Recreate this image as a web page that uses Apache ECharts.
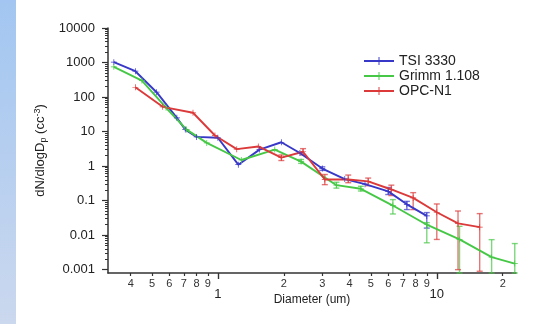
<!DOCTYPE html>
<html>
<head>
<meta charset="utf-8">
<script src="https://cdn.jsdelivr.net/npm/echarts@6/dist/echarts.min.js"></script>
<style>
  html, body { margin: 0; padding: 0; background: #fff; }
  #chart { width: 548px; height: 324px; }
</style>
</head>
<body>
<div id="chart"></div>
<script>
// [diameter um, dN/dlogDp]
const tsi = [
  [0.335, 1020], [0.42, 560], [0.525, 138], [0.65, 25], [0.71, 11.4], [0.8, 7.0],
  [1.0, 6.6], [1.24, 1.1], [1.55, 3.0], [1.95, 4.9], [2.37, 2.4], [3.0, 0.85],
  [3.8, 0.42], [4.7, 0.3], [6.0, 0.185], [7.3, 0.078], [9.0, 0.036],
]
const grimm = [
  [0.335, 750], [0.45, 300], [0.58, 49], [0.72, 11.4], [0.89, 4.7], [1.28, 1.5],
  [1.82, 3.0], [2.4, 1.35], [3.48, 0.28], [4.5, 0.22], [6.3, 0.072], [9.0, 0.02],
  [12.7, 0.0075], [17.8, 0.0023], [22.7, 0.0015],
]
const opc = [
  [0.42, 192], [0.56, 52], [0.77, 35], [0.97, 7.7], [1.22, 3.1], [1.53, 3.7],
  [1.95, 1.75], [2.45, 2.6], [3.08, 0.41], [3.94, 0.41], [4.86, 0.36], [6.2, 0.21],
  [7.8, 0.12], [10, 0.046], [12.5, 0.022], [15.7, 0.017],
]
// error bars [diameter, low, high]
const tsiErr = [[3.0, 0.75, 0.95], [6.0, 0.15, 0.24], [7.3, 0.055, 0.095], [9.0, 0.016, 0.045]]
const grimmErr = [
  [2.4, 1.2, 1.55], [3.48, 0.23, 0.34], [4.5, 0.19, 0.26], [6.3, 0.041, 0.107],
  [9.0, 0.006, 0.023], [12.7, 0.0008, 0.018], [17.8, 0.0008, 0.0074], [22.7, 0.0008, 0.0057],
]
const opcErr = [
  [1.95, 1.45, 2.1], [2.45, 2.1, 3.2], [3.08, 0.29, 0.57], [3.94, 0.33, 0.55],
  [4.86, 0.27, 0.45], [6.2, 0.14, 0.28], [7.8, 0.055, 0.17], [10, 0.0075, 0.08],
  [12.5, 0.001, 0.05], [15.7, 0.0009, 0.042],
]
const xMajor = [1, 10]
const xMinor = [0.4, 0.5, 0.6, 0.7, 0.8, 0.9, 2, 3, 4, 5, 6, 7, 8, 9, 20]
const yMajor = [0.001, 0.01, 0.1, 1, 10, 100, 1000, 10000]
const yMinor = []
yMajor.slice(0, -1).forEach(d => { for (let k = 2; k <= 9; k++) yMinor.push(+(d * k).toPrecision(2)) })

const colors = { tsi: '#3838c8', grimm: '#46c846', opc: '#dc3a3a' }
const plus = 'path://M0,4.4h10v1.2h-10z M4.4,0h1.2v10h-1.2z'
const axisColor = '#333'
const font = 'Liberation Sans, Arial, sans-serif'

const chart = echarts.init(document.getElementById('chart'))

const errSeries = (data, color) => ({
  type: 'custom',
  data,
  encode: { x: 0, y: [1, 2] },
  silent: true,
  z: 1,
  renderItem(params, api) {
    const x = api.value(0)
    const lo = api.coord([x, api.value(1)])
    const hi = api.coord([x, api.value(2)])
    const w = 3
    const style = { stroke: color, lineWidth: 1.4, opacity: 0.7 }
    return {
      type: 'group',
      children: [
        { type: 'line', shape: { x1: lo[0], y1: lo[1], x2: hi[0], y2: hi[1] }, style },
        { type: 'line', shape: { x1: hi[0] - w, y1: hi[1], x2: hi[0] + w, y2: hi[1] }, style },
        { type: 'line', shape: { x1: lo[0] - w, y1: lo[1], x2: lo[0] + w, y2: lo[1] }, style },
      ],
    }
  },
})

const lineSeries = (name, data, color) => ({
  name,
  type: 'line',
  data,
  symbol: plus,
  symbolSize: 6,
  showSymbol: true,
  color,
  lineStyle: { width: 1.9, color },
  itemStyle: { color },
  z: 3,
})

chart.setOption({
  animation: false,
  textStyle: { fontFamily: font },
  graphic: [
    {
      type: 'rect',
      shape: { x: 0, y: 0, width: 16, height: 324 },
      style: {
        fill: new echarts.graphic.LinearGradient(0, 0, 0, 1, [
          { offset: 0, color: '#a2c6f1' },
          { offset: 1, color: '#cbd8ee' },
        ]),
      },
      silent: true,
    },
  ],
  grid: { left: 108, right: 32, top: 28, bottom: 51 },
  legend: {
    data: ['TSI 3330', 'Grimm 1.108', 'OPC-N1'],
    orient: 'vertical',
    left: 358,
    top: 49,
    itemWidth: 30,
    itemHeight: 10,
    itemGap: 1,
    textStyle: { fontSize: 14, color: '#222', lineHeight: 11 },
  },
  xAxis: [
    {
      type: 'log',
      min: 0.315,
      max: 23,
      name: 'Diameter (um)',
      nameLocation: 'middle',
      nameGap: 17,
      nameTextStyle: { fontSize: 12, color: '#222' },
      axisLine: { lineStyle: { color: axisColor, width: 1.5 } },
      axisTick: { customValues: xMinor, length: 3, lineStyle: { color: axisColor, width: 1.2 } },
      axisLabel: {
        customValues: xMinor,
        fontSize: 11,
        color: '#333',
        margin: 5,
        formatter: v => String(Math.round(v < 1 ? v * 10 : v >= 10 ? v / 10 : v)),
      },
      splitLine: { show: false },
    },
    {
      type: 'log',
      min: 0.315,
      max: 23,
      position: 'bottom',
      axisLine: { show: false },
      axisTick: { customValues: xMajor, length: 6, lineStyle: { color: axisColor, width: 1.4 } },
      axisLabel: { customValues: xMajor, fontSize: 13, color: '#222', margin: 15, formatter: v => String(Math.round(v)) },
      splitLine: { show: false },
    },
  ],
  yAxis: [
    {
      type: 'log',
      min: 0.0008,
      max: 10000,
      name: 'dN/dlogD{sub|p} (cc{sup|-3})',
      nameLocation: 'middle',
      nameRotate: 90,
      nameGap: 60,
      nameTextStyle: {
        fontSize: 13,
        color: '#222',
        rich: {
          sub: { fontSize: 9, color: '#222', verticalAlign: 'bottom', padding: [6, 0, 0, 0] },
          sup: { fontSize: 9, color: '#222', verticalAlign: 'top', padding: [0, 0, 6, 0] },
        },
      },
      axisLine: { show: true, lineStyle: { color: axisColor, width: 1.5 } },
      axisTick: { customValues: yMajor, length: 6, lineStyle: { color: axisColor, width: 1.2 } },
      axisLabel: {
        customValues: yMajor,
        fontSize: 13,
        color: '#222',
        margin: 13,
        formatter: v => (v >= 1 ? String(Math.round(v)) : String(+v.toPrecision(1))),
      },
      splitLine: { show: false },
    },
    {
      type: 'log',
      min: 0.0008,
      max: 10000,
      position: 'left',
      axisLine: { show: false },
      axisTick: { customValues: yMinor, length: 3, lineStyle: { color: axisColor, width: 1 } },
      axisLabel: { show: false },
      splitLine: { show: false },
    },
  ],
  series: [
    errSeries(tsiErr, colors.tsi),
    errSeries(grimmErr, colors.grimm),
    errSeries(opcErr, colors.opc),
    lineSeries('TSI 3330', tsi, colors.tsi),
    lineSeries('Grimm 1.108', grimm, colors.grimm),
    lineSeries('OPC-N1', opc, colors.opc),
  ],
})
</script>
</body>
</html>
